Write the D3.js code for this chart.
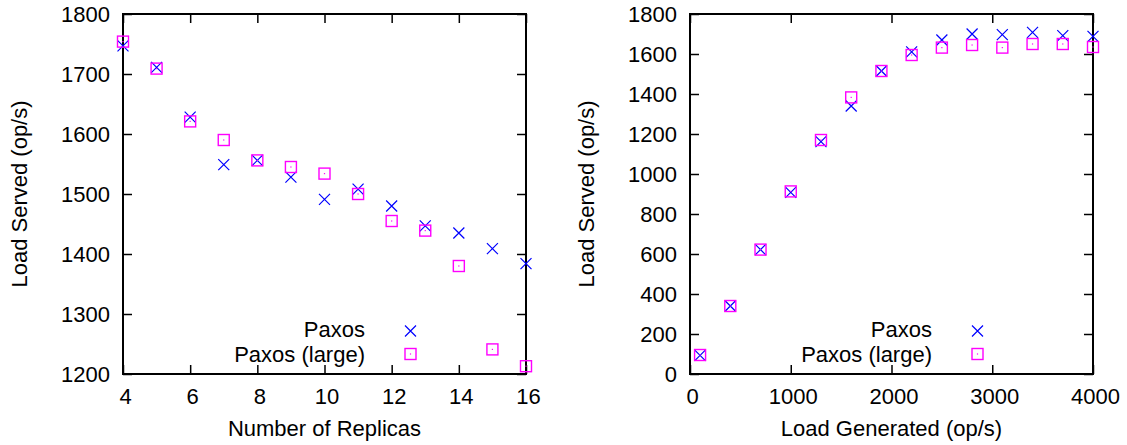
<!DOCTYPE html>
<html>
<head>
<meta charset="utf-8">
<script src="https://cdn.jsdelivr.net/npm/d3@7"></script>
<style>
  html, body { margin: 0; padding: 0; background: #ffffff; }
  svg { display: block; }
  text { font-family: "Liberation Sans", Arial, Helvetica, sans-serif; fill: #000; }
</style>
</head>
<body>
<svg id="chart" width="1127" height="445"></svg>
<script>
// Throughput vs. number of replicas
const replicas = [4, 5, 6, 7, 8, 9, 10, 11, 12, 13, 14, 15, 16];
const paxosByReplicas      = [1747, 1711, 1628, 1549, 1556, 1528, 1491, 1508, 1480, 1447, 1435, 1409, 1384];
const paxosLargeByReplicas = [1754, 1709, 1621, 1590, 1556, 1545, 1534, 1500, 1455, 1439, 1380, 1241, 1213];

// Throughput vs. offered load
const loadGenerated   = [100, 400, 700, 1000, 1300, 1600, 1900, 2200, 2500, 2800, 3100, 3400, 3700, 4000];
const paxosByLoad      = [93, 340, 622, 908, 1162, 1340, 1515, 1611, 1670, 1700, 1697, 1708, 1692, 1688];
const paxosLargeByLoad = [95, 340, 622, 913, 1170, 1383, 1515, 1595, 1632, 1645, 1632, 1650, 1650, 1635];

// Tick values
const replicaTicks = [4, 6, 8, 10, 12, 14, 16];
const replicaYTicks = [1200, 1300, 1400, 1500, 1600, 1700, 1800];
const loadXTicks = [0, 1000, 2000, 3000, 4000];
const loadYTicks = [0, 200, 400, 600, 800, 1000, 1200, 1400, 1600, 1800];

const seriesNames = ["Paxos", "Paxos (large)"];

const BLUE = "#0000ff";
const MAGENTA = "#ff00ff";
const FONT = 22;

const svg = d3.select("#chart");

function drawCross(g, x, y) {
  const s = 5.5;
  g.append("path")
    .attr("d", `M${x - s},${y - s}L${x + s},${y + s}M${x - s},${y + s}L${x + s},${y - s}`)
    .attr("stroke", BLUE).attr("stroke-width", 1.2).attr("fill", "none");
}

function drawSquare(g, x, y) {
  const s = 5.5;
  g.append("rect")
    .attr("x", x - s).attr("y", y - s).attr("width", 2 * s).attr("height", 2 * s)
    .attr("stroke", MAGENTA).attr("stroke-width", 1.4).attr("fill", "none");
  g.append("rect")
    .attr("x", x - 0.6).attr("y", y - 0.6).attr("width", 1.2).attr("height", 1.2)
    .attr("fill", MAGENTA);
}

function panel(opts) {
  const { left, top, width, height, xDomain, yDomain, xTicks, yTicks, xs, ys1, ys2, xTitle, yTitle } = opts;
  const g = svg.append("g");
  const x = d3.scaleLinear().domain(xDomain).range([left, left + width]);
  const y = d3.scaleLinear().domain(yDomain).range([top + height, top]);
  const tick = 9;

  const styleAxis = sel => {
    sel.select(".domain").remove();
    sel.selectAll(".tick line").attr("stroke", "#000").attr("stroke-width", 1.5);
    sel.selectAll(".tick text").attr("font-size", FONT).attr("fill", "#000")
      .attr("font-family", '"Liberation Sans", Arial, sans-serif');
  };

  // bottom axis with labels, ticks pointing inward
  g.append("g").attr("transform", `translate(0,${top + height})`)
    .call(d3.axisBottom(x).tickValues(xTicks).tickSize(-tick).tickPadding(14).tickFormat(d3.format("d")))
    .call(styleAxis)
    .call(s => s.selectAll(".tick text").attr("dx", 2));
  // top mirror ticks
  g.append("g").attr("transform", `translate(0,${top})`)
    .call(d3.axisTop(x).tickValues(xTicks).tickSize(-tick).tickFormat(""))
    .call(styleAxis);
  // left axis with labels
  g.append("g").attr("transform", `translate(${left},0)`)
    .call(d3.axisLeft(y).tickValues(yTicks).tickSize(-tick).tickPadding(13).tickFormat(d3.format("d")))
    .call(styleAxis);
  // right mirror ticks
  g.append("g").attr("transform", `translate(${left + width},0)`)
    .call(d3.axisRight(y).tickValues(yTicks).tickSize(-tick).tickFormat(""))
    .call(styleAxis);

  // frame
  g.append("rect")
    .attr("x", left).attr("y", top).attr("width", width).attr("height", height)
    .attr("fill", "none").attr("stroke", "#000").attr("stroke-width", 2);

  // axis titles
  g.append("text")
    .attr("x", left + width / 2).attr("y", top + height + 62)
    .attr("text-anchor", "middle").attr("font-size", FONT)
    .text(xTitle);
  g.append("text")
    .attr("transform", `translate(${left - 96},${top + height / 2}) rotate(-90)`)
    .attr("text-anchor", "middle").attr("font-size", FONT)
    .text(yTitle);

  // data points
  const marks = g.append("g");
  xs.forEach((d, i) => drawCross(marks, x(d), y(ys1[i])));
  xs.forEach((d, i) => drawSquare(marks, x(d), y(ys2[i])));

  // legend
  const lg = g.append("g");
  const textRight = left + width - 161;
  const markX = left + width - 115.5;
  lg.append("text").attr("x", textRight).attr("y", 337)
    .attr("text-anchor", "end").attr("font-size", FONT).text(seriesNames[0]);
  lg.append("text").attr("x", textRight).attr("y", 361.5)
    .attr("text-anchor", "end").attr("font-size", FONT).text(seriesNames[1]);
  drawCross(lg, markX, 331);
  drawSquare(lg, markX, 354);
}

panel({
  left: 123, top: 14, width: 403, height: 360,
  xDomain: [4, 16], yDomain: [1200, 1800],
  xTicks: replicaTicks, yTicks: replicaYTicks,
  xs: replicas, ys1: paxosByReplicas, ys2: paxosLargeByReplicas,
  xTitle: "Number of Replicas", yTitle: "Load Served (op/s)"
});

panel({
  left: 690, top: 14, width: 403, height: 360,
  xDomain: [0, 4000], yDomain: [0, 1800],
  xTicks: loadXTicks, yTicks: loadYTicks,
  xs: loadGenerated, ys1: paxosByLoad, ys2: paxosLargeByLoad,
  xTitle: "Load Generated (op/s)", yTitle: "Load Served (op/s)"
});
</script>
</body>
</html>
